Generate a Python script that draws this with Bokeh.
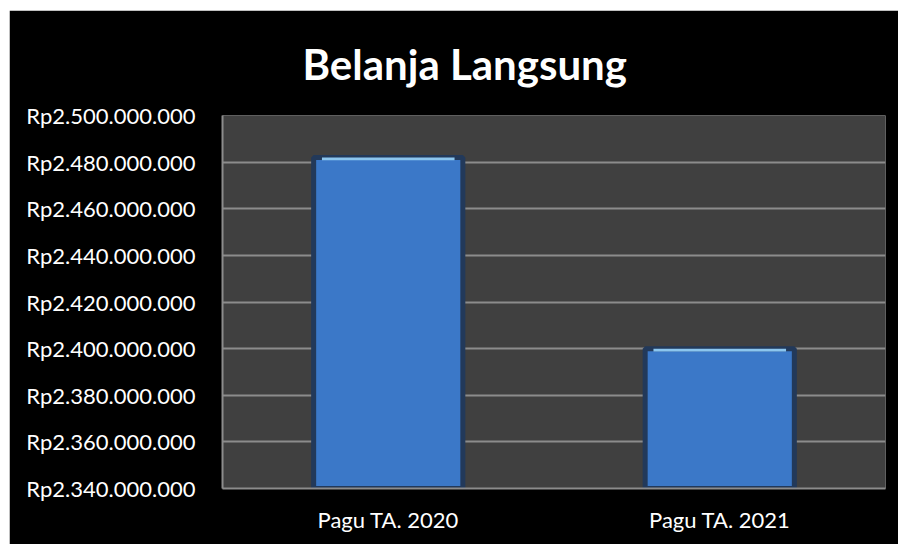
from bokeh.plotting import figure
from bokeh.models import ColumnDataSource, FixedTicker, Range1d, FactorRange
from bokeh.embed import file_html
from bokeh.resources import INLINE

# ---- data ----
categories = ["Pagu TA. 2020", "Pagu TA. 2021"]
values = [2482000000, 2400000000]
tick_values = [2340000000, 2360000000, 2380000000, 2400000000,
               2420000000, 2440000000, 2460000000, 2480000000, 2500000000]
tick_labels = ["Rp2.340.000.000", "Rp2.360.000.000", "Rp2.380.000.000",
               "Rp2.400.000.000", "Rp2.420.000.000", "Rp2.440.000.000",
               "Rp2.460.000.000", "Rp2.480.000.000", "Rp2.500.000.000"]
title_text = "Belanja Langsung"

FONT = "Lato"

src = ColumnDataSource(dict(cat=categories, val=values,
                            hl=[v - 1200000 for v in values]))

p = figure(x_range=FactorRange(*categories),
           y_range=Range1d(tick_values[0], tick_values[-1]),
           width=889, height=534, output_backend="svg",
           toolbar_location=None, title=title_text,
           min_border_left=213, min_border_right=13,
           min_border_top=105, min_border_bottom=56)
p.styles = {"margin-left": "9px", "margin-top": "10px"}

p.background_fill_color = "#404040"
p.border_fill_color = "black"
p.outline_line_color = None

p.title.text_font = FONT
p.title.text_font_style = "bold"
p.title.text_font_size = "42px"
p.title.text_color = "white"
p.title.align = "left"
p.title.offset = 80
p.title.standoff = 53

# bars
p.vbar(x="cat", top="val", bottom=tick_values[0], width=0.45, source=src,
       fill_color="#3b78c8", line_color="#22395a", line_width=5)
p.vbar(x="cat", top="val", bottom="hl", width=0.40, source=src,
       fill_color="#8cc6ee", line_color=None)

# y axis
p.yaxis.ticker = FixedTicker(ticks=tick_values)
p.yaxis.major_label_overrides = {v: l for v, l in zip(tick_values, tick_labels)}
p.yaxis.major_label_text_font = FONT
p.yaxis.major_label_text_font_size = "22px"
p.yaxis.major_label_text_color = "white"
p.yaxis.major_tick_line_color = None
p.yaxis.minor_tick_line_color = None
p.yaxis.major_label_standoff = 21
p.yaxis.axis_line_color = "#8c8c8c"
p.yaxis.axis_line_width = 2

# x axis
p.xaxis.major_label_text_font = FONT
p.xaxis.major_label_text_font_size = "22px"
p.xaxis.major_label_text_color = "white"
p.xaxis.major_tick_line_color = None
p.xaxis.minor_tick_line_color = None
p.xaxis.major_label_standoff = 11
p.xaxis.axis_line_color = "#8c8c8c"
p.xaxis.axis_line_width = 2

# grid
p.xgrid.grid_line_color = None
p.ygrid.grid_line_color = "#8c8c8c"
p.ygrid.grid_line_width = 2

open("out.html", "w").write(file_html(p, INLINE))
